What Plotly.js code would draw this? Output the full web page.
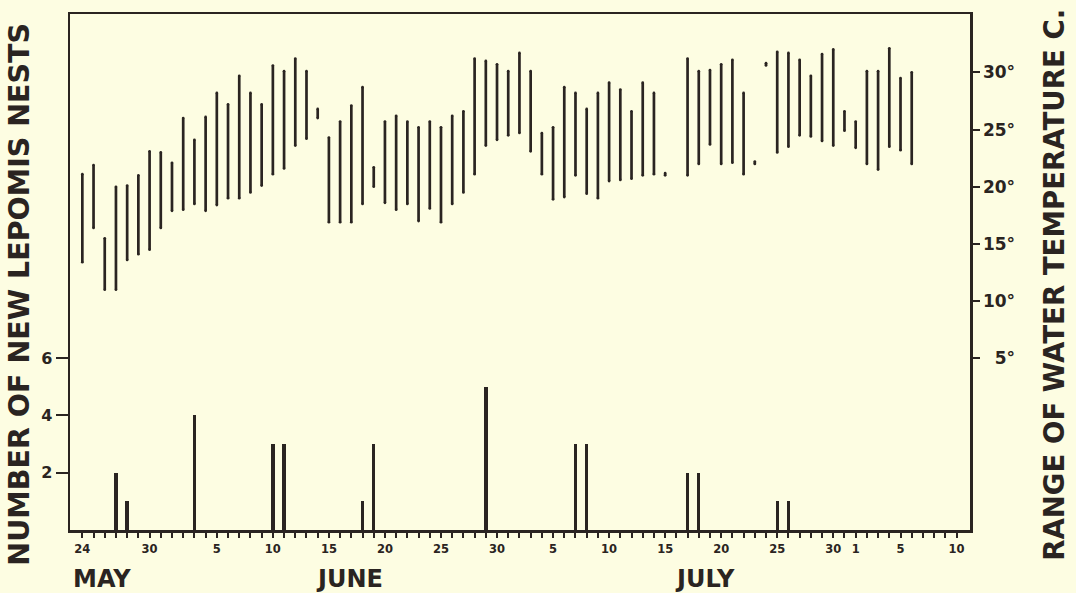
<!DOCTYPE html>
<html>
<head>
<meta charset="utf-8">
<script src="https://cdn.plot.ly/plotly-3.0.1.min.js"></script>
<style>
  html, body { margin: 0; padding: 0; background: #fdfde2; }
  #chart { width: 1076px; height: 593px; }
</style>
</head>
<body>
<div id="chart"></div>
<script>
// ---- Data ----
// Daily water temperature range, one entry per day starting May 24 (null = no reading)
const startDate = [2000, 4, 24]; // May 24 (month is 0-based)
const tempMin = [13.4, 16.4, 11.0, 11.0, 13.6, 14.1, 14.5, 16.4, 17.9, 18.0,
                 18.5, 17.9, 18.4, 19.0, 19.0, 19.5, 20.1, 21.1, 21.6, 23.6,
                 24.2, 26.0, 16.9, 16.9, 16.9, 18.5, 20.0, 18.6, 18.0, 18.5,
                 17.0, 18.1, 16.9, 18.5, 19.5, 21.1, 23.6, 24.1, 24.5, 24.7,
                 23.1, 21.1, 18.9, 19.1, 21.0, 19.4, 19.0, 20.5, 20.6, 20.7,
                 21.0, 21.1, 21.0, null, 21.0, 22.0, 23.7, 22.0, 22.1, 21.1,
                 22.0, 30.6, 23.0, 23.5, 24.5, 24.4, 24.0, 23.6, 24.9, 23.4,
                 22.0, 21.5, 23.5, 23.2, 22.0];
const tempMax = [21.1, 21.9, 15.5, 20.0, 20.1, 21.0, 23.1, 23.0, 22.1, 26.0,
                 24.1, 26.1, 28.2, 27.2, 29.7, 28.2, 27.2, 30.6, 30.1, 31.2,
                 30.1, 26.8, 24.3, 25.7, 27.1, 28.7, 21.7, 25.7, 26.2, 25.7,
                 25.2, 25.7, 25.2, 26.2, 26.6, 31.2, 31.0, 30.7, 30.1, 31.7,
                 30.1, 24.7, 25.2, 28.7, 28.2, 26.8, 28.2, 29.1, 28.5, 26.6,
                 29.1, 28.2, 21.2, null, 31.2, 30.1, 30.2, 30.7, 31.1, 28.2,
                 22.2, 30.8, 31.8, 31.7, 31.1, 29.7, 31.6, 32.0, 26.6, 25.7,
                 30.1, 30.1, 32.1, 29.5, 30.0];

// New Lepomis nests
const nestDates  = ['2000-05-27', '2000-05-28', '2000-06-03', '2000-06-10', '2000-06-11',
                    '2000-06-18', '2000-06-19', '2000-06-29', '2000-07-07', '2000-07-08',
                    '2000-07-17', '2000-07-18', '2000-07-25', '2000-07-26'];
const nestCounts = [2, 1, 4, 3, 3, 1, 3, 5, 3, 3, 2, 2, 1, 1];

// X axis: a tick every day from May 24 to Aug 10; labels on some days
const tickDayCount = 79;
const tickLabelMap = {'05-24': '24', '05-30': '30', '06-05': '5', '06-10': '10', '06-15': '15',
                      '06-20': '20', '06-25': '25', '06-30': '30', '07-05': '5', '07-10': '10',
                      '07-15': '15', '07-20': '20', '07-25': '25', '07-30': '30', '08-01': '1',
                      '08-05': '5', '08-10': '10'};
const monthLabels = ['MAY', 'JUNE', 'JULY'];
const nestTicks = [2, 4, 6];
const tempTicks = [5, 10, 15, 20, 25, 30];
const tempTickText = ['\u20075°', '10°', '15°', '20°', '25°', '30°'];

// ---- Helpers ----
const DAY = 86400000;
const t0 = Date.UTC(startDate[0], startDate[1], startDate[2]);
function iso(ms) { return new Date(ms).toISOString().slice(0, 10); }
function isoTime(ms) { return new Date(ms).toISOString().replace('T', ' ').slice(0, 19); }

// Temperature range segments
const segX = [], segY = [];
tempMin.forEach((lo, i) => {
  const hi = tempMax[i];
  if (lo === null || hi === null) return;
  const d = iso(t0 + i * DAY);
  segX.push(d, d, null);
  segY.push(lo, hi, null);
});

const tickVals = [], tickText = [];
for (let i = 0; i < tickDayCount; i++) {
  const d = iso(t0 + i * DAY);
  tickVals.push(d);
  tickText.push(tickLabelMap[d.slice(5)] || '');
}

const ink = '#2a2421';
const bg = '#fdfde2';
const FONT = 'DejaVu Sans';

const traces = [
  {
    type: 'bar',
    x: nestDates,
    y: nestCounts,
    width: 0.3 * DAY,
    marker: { color: ink, line: { width: 0 } },
    yaxis: 'y',
    hoverinfo: 'x+y',
    showlegend: false
  },
  {
    type: 'scatter',
    mode: 'lines+markers',
    x: segX,
    y: segY,
    yaxis: 'y2',
    line: { color: ink, width: 2.7 },
    marker: { color: ink, size: 2.7 },
    connectgaps: false,
    hoverinfo: 'x+y',
    showlegend: false
  }
];

const layout = {
  width: 1076,
  height: 593,
  margin: { l: 70, r: 106, t: 14, b: 63 },
  paper_bgcolor: bg,
  plot_bgcolor: bg,
  showlegend: false,
  bargap: 0,
  font: { family: FONT, color: ink, weight: 'bold' },
  xaxis: {
    type: 'date',
    range: [isoTime(t0 - 1.1 * DAY), isoTime(t0 + 79.2 * DAY)],
    tickmode: 'array',
    tickvals: tickVals,
    ticktext: tickText,
    ticks: 'outside',
    ticklen: 5,
    tickwidth: 2,
    tickcolor: ink,
    tickfont: { family: FONT, size: 11.5, color: ink, weight: 'bold' },
    ticklabelstandoff: 2,
    showline: true,
    linecolor: ink,
    linewidth: 2.5,
    mirror: true,
    showgrid: false,
    zeroline: false,
    fixedrange: true
  },
  yaxis: {
    range: [0, 18],
    tickmode: 'array',
    tickvals: nestTicks,
    ticktext: nestTicks.map(String),
    ticks: 'outside',
    ticklen: 12,
    tickwidth: 2,
    tickcolor: ink,
    tickfont: { family: FONT, size: 16, color: ink, weight: 'bold' },
    showline: true,
    linecolor: ink,
    linewidth: 2.5,
    mirror: true,
    showgrid: false,
    zeroline: false,
    fixedrange: true
  },
  yaxis2: {
    overlaying: 'y',
    side: 'right',
    range: [-10.0, 35.1],
    tickmode: 'array',
    tickvals: tempTicks,
    ticktext: tempTickText,
    ticks: 'outside',
    ticklen: 7,
    tickwidth: 2,
    tickcolor: ink,
    tickfont: { family: FONT, size: 17, color: ink, weight: 'bold' },
    showline: true,
    linecolor: ink,
    linewidth: 2.5,
    showgrid: false,
    zeroline: false,
    fixedrange: true
  },
  annotations: [
    {
      text: 'NUMBER OF NEW LEPOMIS NESTS',
      xref: 'paper', yref: 'paper', x: -0.0556, y: 0.458,
      xanchor: 'center', yanchor: 'middle', textangle: -90, showarrow: false,
      font: { family: FONT, size: 28.5, color: ink, weight: 'bold' }
    },
    {
      text: 'RANGE OF WATER TEMPERATURE C.',
      xref: 'paper', yref: 'paper', x: 1.0944, y: 0.475,
      xanchor: 'center', yanchor: 'middle', textangle: -90, showarrow: false,
      font: { family: FONT, size: 27.6, color: ink, weight: 'bold' }
    },
    {
      text: monthLabels[0], xref: 'paper', yref: 'paper', x: 0.0361, y: -0.095,
      xanchor: 'center', yanchor: 'middle', showarrow: false,
      font: { family: FONT, size: 24, color: ink, weight: 'bold' }
    },
    {
      text: monthLabels[1], xref: 'paper', yref: 'paper', x: 0.311, y: -0.095,
      xanchor: 'center', yanchor: 'middle', showarrow: false,
      font: { family: FONT, size: 24, color: ink, weight: 'bold' }
    },
    {
      text: monthLabels[2], xref: 'paper', yref: 'paper', x: 0.7056, y: -0.095,
      xanchor: 'center', yanchor: 'middle', showarrow: false,
      font: { family: FONT, size: 24, color: ink, weight: 'bold' }
    }
  ]
};

Plotly.newPlot('chart', traces, layout, { displayModeBar: false, staticPlot: true });
</script>
</body>
</html>
